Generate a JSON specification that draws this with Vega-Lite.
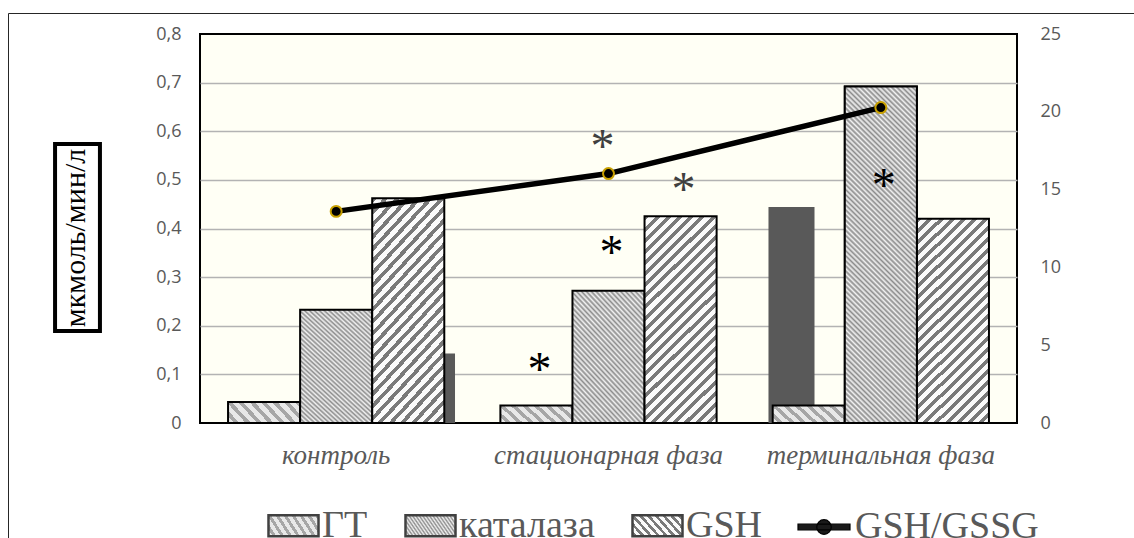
{
  "$schema": "https://vega.github.io/schema/vega-lite/v6.json",
  "width": 817,
  "height": 389,
  "autosize": {"type": "none"},
  "padding": {"left": 200, "top": 34, "right": 117, "bottom": 115},
  "background": "white",
  "config": {
    "view": {"stroke": "black", "strokeWidth": 2, "fill": "#fffff5"}
  },
  "params": [
    {"name": "gradGT", "value": {"gradient": "linear", "x1": 1, "y1": 0, "x2": -0.183, "y2": 0.317, "stops": [
      {"offset": 0, "color": "#a6a6a6"}, {"offset": 0.056, "color": "#a6a6a6"}, {"offset": 0.056, "color": "#e8e8e8"}, {"offset": 0.125, "color": "#e8e8e8"},
      {"offset": 0.125, "color": "#a6a6a6"}, {"offset": 0.181, "color": "#a6a6a6"}, {"offset": 0.181, "color": "#e8e8e8"}, {"offset": 0.25, "color": "#e8e8e8"},
      {"offset": 0.25, "color": "#a6a6a6"}, {"offset": 0.306, "color": "#a6a6a6"}, {"offset": 0.306, "color": "#e8e8e8"}, {"offset": 0.375, "color": "#e8e8e8"},
      {"offset": 0.375, "color": "#a6a6a6"}, {"offset": 0.431, "color": "#a6a6a6"}, {"offset": 0.431, "color": "#e8e8e8"}, {"offset": 0.5, "color": "#e8e8e8"},
      {"offset": 0.5, "color": "#a6a6a6"}, {"offset": 0.556, "color": "#a6a6a6"}, {"offset": 0.556, "color": "#e8e8e8"}, {"offset": 0.625, "color": "#e8e8e8"},
      {"offset": 0.625, "color": "#a6a6a6"}, {"offset": 0.681, "color": "#a6a6a6"}, {"offset": 0.681, "color": "#e8e8e8"}, {"offset": 0.75, "color": "#e8e8e8"},
      {"offset": 0.75, "color": "#a6a6a6"}, {"offset": 0.806, "color": "#a6a6a6"}, {"offset": 0.806, "color": "#e8e8e8"}, {"offset": 0.875, "color": "#e8e8e8"},
      {"offset": 0.875, "color": "#a6a6a6"}, {"offset": 0.931, "color": "#a6a6a6"}, {"offset": 0.931, "color": "#e8e8e8"}, {"offset": 1, "color": "#e8e8e8"}
    ]}},
    {"name": "gradKat", "value": {"gradient": "linear", "x1": 1, "y1": 0, "x2": 0.312, "y2": 1.182, "stops": [
      {"offset": 0, "color": "#8c8c8c"}, {"offset": 0.0125, "color": "#f2f2f2"}, {"offset": 0.025, "color": "#8c8c8c"}, {"offset": 0.0375, "color": "#f2f2f2"},
      {"offset": 0.05, "color": "#8c8c8c"}, {"offset": 0.0625, "color": "#f2f2f2"}, {"offset": 0.075, "color": "#8c8c8c"}, {"offset": 0.0875, "color": "#f2f2f2"},
      {"offset": 0.1, "color": "#8c8c8c"}, {"offset": 0.1125, "color": "#f2f2f2"}, {"offset": 0.125, "color": "#8c8c8c"}, {"offset": 0.1375, "color": "#f2f2f2"},
      {"offset": 0.15, "color": "#8c8c8c"}, {"offset": 0.1625, "color": "#f2f2f2"}, {"offset": 0.175, "color": "#8c8c8c"}, {"offset": 0.1875, "color": "#f2f2f2"},
      {"offset": 0.2, "color": "#8c8c8c"}, {"offset": 0.2125, "color": "#f2f2f2"}, {"offset": 0.225, "color": "#8c8c8c"}, {"offset": 0.2375, "color": "#f2f2f2"},
      {"offset": 0.25, "color": "#8c8c8c"}, {"offset": 0.2625, "color": "#f2f2f2"}, {"offset": 0.275, "color": "#8c8c8c"}, {"offset": 0.2875, "color": "#f2f2f2"},
      {"offset": 0.3, "color": "#8c8c8c"}, {"offset": 0.3125, "color": "#f2f2f2"}, {"offset": 0.325, "color": "#8c8c8c"}, {"offset": 0.3375, "color": "#f2f2f2"},
      {"offset": 0.35, "color": "#8c8c8c"}, {"offset": 0.3625, "color": "#f2f2f2"}, {"offset": 0.375, "color": "#8c8c8c"}, {"offset": 0.3875, "color": "#f2f2f2"},
      {"offset": 0.4, "color": "#8c8c8c"}, {"offset": 0.4125, "color": "#f2f2f2"}, {"offset": 0.425, "color": "#8c8c8c"}, {"offset": 0.4375, "color": "#f2f2f2"},
      {"offset": 0.45, "color": "#8c8c8c"}, {"offset": 0.4625, "color": "#f2f2f2"}, {"offset": 0.475, "color": "#8c8c8c"}, {"offset": 0.4875, "color": "#f2f2f2"},
      {"offset": 0.5, "color": "#8c8c8c"}, {"offset": 0.5125, "color": "#f2f2f2"}, {"offset": 0.525, "color": "#8c8c8c"}, {"offset": 0.5375, "color": "#f2f2f2"},
      {"offset": 0.55, "color": "#8c8c8c"}, {"offset": 0.5625, "color": "#f2f2f2"}, {"offset": 0.575, "color": "#8c8c8c"}, {"offset": 0.5875, "color": "#f2f2f2"},
      {"offset": 0.6, "color": "#8c8c8c"}, {"offset": 0.6125, "color": "#f2f2f2"}, {"offset": 0.625, "color": "#8c8c8c"}, {"offset": 0.6375, "color": "#f2f2f2"},
      {"offset": 0.65, "color": "#8c8c8c"}, {"offset": 0.6625, "color": "#f2f2f2"}, {"offset": 0.675, "color": "#8c8c8c"}, {"offset": 0.6875, "color": "#f2f2f2"},
      {"offset": 0.7, "color": "#8c8c8c"}, {"offset": 0.7125, "color": "#f2f2f2"}, {"offset": 0.725, "color": "#8c8c8c"}, {"offset": 0.7375, "color": "#f2f2f2"},
      {"offset": 0.75, "color": "#8c8c8c"}, {"offset": 0.7625, "color": "#f2f2f2"}, {"offset": 0.775, "color": "#8c8c8c"}, {"offset": 0.7875, "color": "#f2f2f2"},
      {"offset": 0.8, "color": "#8c8c8c"}, {"offset": 0.8125, "color": "#f2f2f2"}, {"offset": 0.825, "color": "#8c8c8c"}, {"offset": 0.8375, "color": "#f2f2f2"},
      {"offset": 0.85, "color": "#8c8c8c"}, {"offset": 0.8625, "color": "#f2f2f2"}, {"offset": 0.875, "color": "#8c8c8c"}, {"offset": 0.8875, "color": "#f2f2f2"},
      {"offset": 0.9, "color": "#8c8c8c"}, {"offset": 0.9125, "color": "#f2f2f2"}, {"offset": 0.925, "color": "#8c8c8c"}, {"offset": 0.9375, "color": "#f2f2f2"},
      {"offset": 0.95, "color": "#8c8c8c"}, {"offset": 0.9625, "color": "#f2f2f2"}, {"offset": 0.975, "color": "#8c8c8c"}, {"offset": 0.9875, "color": "#f2f2f2"},
      {"offset": 1, "color": "#8c8c8c"}
    ]}},
    {"name": "gradKatTall", "value": {"gradient": "linear", "x1": 1, "y1": 0, "x2": 0.7558, "y2": 1.1592, "stops": [
      {"offset": 0, "color": "#8c8c8c"}, {"offset": 0.00625, "color": "#f2f2f2"}, {"offset": 0.0125, "color": "#8c8c8c"}, {"offset": 0.01875, "color": "#f2f2f2"},
      {"offset": 0.025, "color": "#8c8c8c"}, {"offset": 0.03125, "color": "#f2f2f2"}, {"offset": 0.0375, "color": "#8c8c8c"}, {"offset": 0.04375, "color": "#f2f2f2"},
      {"offset": 0.05, "color": "#8c8c8c"}, {"offset": 0.05625, "color": "#f2f2f2"}, {"offset": 0.0625, "color": "#8c8c8c"}, {"offset": 0.06875, "color": "#f2f2f2"},
      {"offset": 0.075, "color": "#8c8c8c"}, {"offset": 0.08125, "color": "#f2f2f2"}, {"offset": 0.0875, "color": "#8c8c8c"}, {"offset": 0.09375, "color": "#f2f2f2"},
      {"offset": 0.1, "color": "#8c8c8c"}, {"offset": 0.10625, "color": "#f2f2f2"}, {"offset": 0.1125, "color": "#8c8c8c"}, {"offset": 0.11875, "color": "#f2f2f2"},
      {"offset": 0.125, "color": "#8c8c8c"}, {"offset": 0.13125, "color": "#f2f2f2"}, {"offset": 0.1375, "color": "#8c8c8c"}, {"offset": 0.14375, "color": "#f2f2f2"},
      {"offset": 0.15, "color": "#8c8c8c"}, {"offset": 0.15625, "color": "#f2f2f2"}, {"offset": 0.1625, "color": "#8c8c8c"}, {"offset": 0.16875, "color": "#f2f2f2"},
      {"offset": 0.175, "color": "#8c8c8c"}, {"offset": 0.18125, "color": "#f2f2f2"}, {"offset": 0.1875, "color": "#8c8c8c"}, {"offset": 0.19375, "color": "#f2f2f2"},
      {"offset": 0.2, "color": "#8c8c8c"}, {"offset": 0.20625, "color": "#f2f2f2"}, {"offset": 0.2125, "color": "#8c8c8c"}, {"offset": 0.21875, "color": "#f2f2f2"},
      {"offset": 0.225, "color": "#8c8c8c"}, {"offset": 0.23125, "color": "#f2f2f2"}, {"offset": 0.2375, "color": "#8c8c8c"}, {"offset": 0.24375, "color": "#f2f2f2"},
      {"offset": 0.25, "color": "#8c8c8c"}, {"offset": 0.25625, "color": "#f2f2f2"}, {"offset": 0.2625, "color": "#8c8c8c"}, {"offset": 0.26875, "color": "#f2f2f2"},
      {"offset": 0.275, "color": "#8c8c8c"}, {"offset": 0.28125, "color": "#f2f2f2"}, {"offset": 0.2875, "color": "#8c8c8c"}, {"offset": 0.29375, "color": "#f2f2f2"},
      {"offset": 0.3, "color": "#8c8c8c"}, {"offset": 0.30625, "color": "#f2f2f2"}, {"offset": 0.3125, "color": "#8c8c8c"}, {"offset": 0.31875, "color": "#f2f2f2"},
      {"offset": 0.325, "color": "#8c8c8c"}, {"offset": 0.33125, "color": "#f2f2f2"}, {"offset": 0.3375, "color": "#8c8c8c"}, {"offset": 0.34375, "color": "#f2f2f2"},
      {"offset": 0.35, "color": "#8c8c8c"}, {"offset": 0.35625, "color": "#f2f2f2"}, {"offset": 0.3625, "color": "#8c8c8c"}, {"offset": 0.36875, "color": "#f2f2f2"},
      {"offset": 0.375, "color": "#8c8c8c"}, {"offset": 0.38125, "color": "#f2f2f2"}, {"offset": 0.3875, "color": "#8c8c8c"}, {"offset": 0.39375, "color": "#f2f2f2"},
      {"offset": 0.4, "color": "#8c8c8c"}, {"offset": 0.40625, "color": "#f2f2f2"}, {"offset": 0.4125, "color": "#8c8c8c"}, {"offset": 0.41875, "color": "#f2f2f2"},
      {"offset": 0.425, "color": "#8c8c8c"}, {"offset": 0.43125, "color": "#f2f2f2"}, {"offset": 0.4375, "color": "#8c8c8c"}, {"offset": 0.44375, "color": "#f2f2f2"},
      {"offset": 0.45, "color": "#8c8c8c"}, {"offset": 0.45625, "color": "#f2f2f2"}, {"offset": 0.4625, "color": "#8c8c8c"}, {"offset": 0.46875, "color": "#f2f2f2"},
      {"offset": 0.475, "color": "#8c8c8c"}, {"offset": 0.48125, "color": "#f2f2f2"}, {"offset": 0.4875, "color": "#8c8c8c"}, {"offset": 0.49375, "color": "#f2f2f2"},
      {"offset": 0.5, "color": "#8c8c8c"}, {"offset": 0.50625, "color": "#f2f2f2"}, {"offset": 0.5125, "color": "#8c8c8c"}, {"offset": 0.51875, "color": "#f2f2f2"},
      {"offset": 0.525, "color": "#8c8c8c"}, {"offset": 0.53125, "color": "#f2f2f2"}, {"offset": 0.5375, "color": "#8c8c8c"}, {"offset": 0.54375, "color": "#f2f2f2"},
      {"offset": 0.55, "color": "#8c8c8c"}, {"offset": 0.55625, "color": "#f2f2f2"}, {"offset": 0.5625, "color": "#8c8c8c"}, {"offset": 0.56875, "color": "#f2f2f2"},
      {"offset": 0.575, "color": "#8c8c8c"}, {"offset": 0.58125, "color": "#f2f2f2"}, {"offset": 0.5875, "color": "#8c8c8c"}, {"offset": 0.59375, "color": "#f2f2f2"},
      {"offset": 0.6, "color": "#8c8c8c"}, {"offset": 0.60625, "color": "#f2f2f2"}, {"offset": 0.6125, "color": "#8c8c8c"}, {"offset": 0.61875, "color": "#f2f2f2"},
      {"offset": 0.625, "color": "#8c8c8c"}, {"offset": 0.63125, "color": "#f2f2f2"}, {"offset": 0.6375, "color": "#8c8c8c"}, {"offset": 0.64375, "color": "#f2f2f2"},
      {"offset": 0.65, "color": "#8c8c8c"}, {"offset": 0.65625, "color": "#f2f2f2"}, {"offset": 0.6625, "color": "#8c8c8c"}, {"offset": 0.66875, "color": "#f2f2f2"},
      {"offset": 0.675, "color": "#8c8c8c"}, {"offset": 0.68125, "color": "#f2f2f2"}, {"offset": 0.6875, "color": "#8c8c8c"}, {"offset": 0.69375, "color": "#f2f2f2"},
      {"offset": 0.7, "color": "#8c8c8c"}, {"offset": 0.70625, "color": "#f2f2f2"}, {"offset": 0.7125, "color": "#8c8c8c"}, {"offset": 0.71875, "color": "#f2f2f2"},
      {"offset": 0.725, "color": "#8c8c8c"}, {"offset": 0.73125, "color": "#f2f2f2"}, {"offset": 0.7375, "color": "#8c8c8c"}, {"offset": 0.74375, "color": "#f2f2f2"},
      {"offset": 0.75, "color": "#8c8c8c"}, {"offset": 0.75625, "color": "#f2f2f2"}, {"offset": 0.7625, "color": "#8c8c8c"}, {"offset": 0.76875, "color": "#f2f2f2"},
      {"offset": 0.775, "color": "#8c8c8c"}, {"offset": 0.78125, "color": "#f2f2f2"}, {"offset": 0.7875, "color": "#8c8c8c"}, {"offset": 0.79375, "color": "#f2f2f2"},
      {"offset": 0.8, "color": "#8c8c8c"}, {"offset": 0.80625, "color": "#f2f2f2"}, {"offset": 0.8125, "color": "#8c8c8c"}, {"offset": 0.81875, "color": "#f2f2f2"},
      {"offset": 0.825, "color": "#8c8c8c"}, {"offset": 0.83125, "color": "#f2f2f2"}, {"offset": 0.8375, "color": "#8c8c8c"}, {"offset": 0.84375, "color": "#f2f2f2"},
      {"offset": 0.85, "color": "#8c8c8c"}, {"offset": 0.85625, "color": "#f2f2f2"}, {"offset": 0.8625, "color": "#8c8c8c"}, {"offset": 0.86875, "color": "#f2f2f2"},
      {"offset": 0.875, "color": "#8c8c8c"}, {"offset": 0.88125, "color": "#f2f2f2"}, {"offset": 0.8875, "color": "#8c8c8c"}, {"offset": 0.89375, "color": "#f2f2f2"},
      {"offset": 0.9, "color": "#8c8c8c"}, {"offset": 0.90625, "color": "#f2f2f2"}, {"offset": 0.9125, "color": "#8c8c8c"}, {"offset": 0.91875, "color": "#f2f2f2"},
      {"offset": 0.925, "color": "#8c8c8c"}, {"offset": 0.93125, "color": "#f2f2f2"}, {"offset": 0.9375, "color": "#8c8c8c"}, {"offset": 0.94375, "color": "#f2f2f2"},
      {"offset": 0.95, "color": "#8c8c8c"}, {"offset": 0.95625, "color": "#f2f2f2"}, {"offset": 0.9625, "color": "#8c8c8c"}, {"offset": 0.96875, "color": "#f2f2f2"},
      {"offset": 0.975, "color": "#8c8c8c"}, {"offset": 0.98125, "color": "#f2f2f2"}, {"offset": 0.9875, "color": "#8c8c8c"}, {"offset": 0.99375, "color": "#f2f2f2"},
      {"offset": 1, "color": "#8c8c8c"}
    ]}},
    {"name": "gradGSH", "value": {"gradient": "linear", "x1": 0, "y1": 0, "x2": 0.416, "y2": 1.202, "stops": [
      {"offset": 0, "color": "#7a7a7a"}, {"offset": 0.018, "color": "#7a7a7a"}, {"offset": 0.018, "color": "#fbfbfb"}, {"offset": 0.04, "color": "#fbfbfb"},
      {"offset": 0.04, "color": "#7a7a7a"}, {"offset": 0.058, "color": "#7a7a7a"}, {"offset": 0.058, "color": "#fbfbfb"}, {"offset": 0.08, "color": "#fbfbfb"},
      {"offset": 0.08, "color": "#7a7a7a"}, {"offset": 0.098, "color": "#7a7a7a"}, {"offset": 0.098, "color": "#fbfbfb"}, {"offset": 0.12, "color": "#fbfbfb"},
      {"offset": 0.12, "color": "#7a7a7a"}, {"offset": 0.138, "color": "#7a7a7a"}, {"offset": 0.138, "color": "#fbfbfb"}, {"offset": 0.16, "color": "#fbfbfb"},
      {"offset": 0.16, "color": "#7a7a7a"}, {"offset": 0.178, "color": "#7a7a7a"}, {"offset": 0.178, "color": "#fbfbfb"}, {"offset": 0.2, "color": "#fbfbfb"},
      {"offset": 0.2, "color": "#7a7a7a"}, {"offset": 0.218, "color": "#7a7a7a"}, {"offset": 0.218, "color": "#fbfbfb"}, {"offset": 0.24, "color": "#fbfbfb"},
      {"offset": 0.24, "color": "#7a7a7a"}, {"offset": 0.258, "color": "#7a7a7a"}, {"offset": 0.258, "color": "#fbfbfb"}, {"offset": 0.28, "color": "#fbfbfb"},
      {"offset": 0.28, "color": "#7a7a7a"}, {"offset": 0.298, "color": "#7a7a7a"}, {"offset": 0.298, "color": "#fbfbfb"}, {"offset": 0.32, "color": "#fbfbfb"},
      {"offset": 0.32, "color": "#7a7a7a"}, {"offset": 0.338, "color": "#7a7a7a"}, {"offset": 0.338, "color": "#fbfbfb"}, {"offset": 0.36, "color": "#fbfbfb"},
      {"offset": 0.36, "color": "#7a7a7a"}, {"offset": 0.378, "color": "#7a7a7a"}, {"offset": 0.378, "color": "#fbfbfb"}, {"offset": 0.4, "color": "#fbfbfb"},
      {"offset": 0.4, "color": "#7a7a7a"}, {"offset": 0.418, "color": "#7a7a7a"}, {"offset": 0.418, "color": "#fbfbfb"}, {"offset": 0.44, "color": "#fbfbfb"},
      {"offset": 0.44, "color": "#7a7a7a"}, {"offset": 0.458, "color": "#7a7a7a"}, {"offset": 0.458, "color": "#fbfbfb"}, {"offset": 0.48, "color": "#fbfbfb"},
      {"offset": 0.48, "color": "#7a7a7a"}, {"offset": 0.498, "color": "#7a7a7a"}, {"offset": 0.498, "color": "#fbfbfb"}, {"offset": 0.52, "color": "#fbfbfb"},
      {"offset": 0.52, "color": "#7a7a7a"}, {"offset": 0.538, "color": "#7a7a7a"}, {"offset": 0.538, "color": "#fbfbfb"}, {"offset": 0.56, "color": "#fbfbfb"},
      {"offset": 0.56, "color": "#7a7a7a"}, {"offset": 0.578, "color": "#7a7a7a"}, {"offset": 0.578, "color": "#fbfbfb"}, {"offset": 0.6, "color": "#fbfbfb"},
      {"offset": 0.6, "color": "#7a7a7a"}, {"offset": 0.618, "color": "#7a7a7a"}, {"offset": 0.618, "color": "#fbfbfb"}, {"offset": 0.64, "color": "#fbfbfb"},
      {"offset": 0.64, "color": "#7a7a7a"}, {"offset": 0.658, "color": "#7a7a7a"}, {"offset": 0.658, "color": "#fbfbfb"}, {"offset": 0.68, "color": "#fbfbfb"},
      {"offset": 0.68, "color": "#7a7a7a"}, {"offset": 0.698, "color": "#7a7a7a"}, {"offset": 0.698, "color": "#fbfbfb"}, {"offset": 0.72, "color": "#fbfbfb"},
      {"offset": 0.72, "color": "#7a7a7a"}, {"offset": 0.738, "color": "#7a7a7a"}, {"offset": 0.738, "color": "#fbfbfb"}, {"offset": 0.76, "color": "#fbfbfb"},
      {"offset": 0.76, "color": "#7a7a7a"}, {"offset": 0.778, "color": "#7a7a7a"}, {"offset": 0.778, "color": "#fbfbfb"}, {"offset": 0.8, "color": "#fbfbfb"},
      {"offset": 0.8, "color": "#7a7a7a"}, {"offset": 0.818, "color": "#7a7a7a"}, {"offset": 0.818, "color": "#fbfbfb"}, {"offset": 0.84, "color": "#fbfbfb"},
      {"offset": 0.84, "color": "#7a7a7a"}, {"offset": 0.858, "color": "#7a7a7a"}, {"offset": 0.858, "color": "#fbfbfb"}, {"offset": 0.88, "color": "#fbfbfb"},
      {"offset": 0.88, "color": "#7a7a7a"}, {"offset": 0.898, "color": "#7a7a7a"}, {"offset": 0.898, "color": "#fbfbfb"}, {"offset": 0.92, "color": "#fbfbfb"},
      {"offset": 0.92, "color": "#7a7a7a"}, {"offset": 0.938, "color": "#7a7a7a"}, {"offset": 0.938, "color": "#fbfbfb"}, {"offset": 0.96, "color": "#fbfbfb"},
      {"offset": 0.96, "color": "#7a7a7a"}, {"offset": 0.978, "color": "#7a7a7a"}, {"offset": 0.978, "color": "#fbfbfb"}, {"offset": 1, "color": "#fbfbfb"}
    ]}}
  ],
  "datasets": {
    "ферменты": [
      {"фаза": "контроль", "серия": "ГТ", "значение": 0.043, "единицы": "мкмоль/мин/л"},
      {"фаза": "контроль", "серия": "каталаза", "значение": 0.233, "единицы": "мкмоль/мин/л"},
      {"фаза": "контроль", "серия": "GSH", "значение": 0.462, "единицы": "мкмоль/мин/л"},
      {"фаза": "стационарная фаза", "серия": "ГТ", "значение": 0.036, "единицы": "мкмоль/мин/л"},
      {"фаза": "стационарная фаза", "серия": "каталаза", "значение": 0.272, "единицы": "мкмоль/мин/л"},
      {"фаза": "стационарная фаза", "серия": "GSH", "значение": 0.425, "единицы": "мкмоль/мин/л"},
      {"фаза": "терминальная фаза", "серия": "ГТ", "значение": 0.036, "единицы": "мкмоль/мин/л"},
      {"фаза": "терминальная фаза", "серия": "каталаза", "значение": 0.692, "единицы": "мкмоль/мин/л"},
      {"фаза": "терминальная фаза", "серия": "GSH", "значение": 0.42, "единицы": "мкмоль/мин/л"}
    ],
    "тёмные": [
      {"фаза": "контроль", "значение": 0.143},
      {"фаза": "терминальная фаза", "значение": 0.444}
    ],
    "отношение": [
      {"фаза": "контроль", "показатель": "GSH/GSSG", "значение": 13.6},
      {"фаза": "стационарная фаза", "показатель": "GSH/GSSG", "значение": 16.03},
      {"фаза": "терминальная фаза", "показатель": "GSH/GSSG", "значение": 20.27}
    ],
    "звёздочки": [
      {"фаза": "стационарная фаза", "серия": "GSH/GSSG", "уровень": 18.17},
      {"фаза": "стационарная фаза", "серия": "GSH", "уровень": 0.493},
      {"фаза": "стационарная фаза", "серия": "каталаза", "уровень": 0.365},
      {"фаза": "стационарная фаза", "серия": "ГТ", "уровень": 0.123},
      {"фаза": "терминальная фаза", "серия": "каталаза", "уровень": 0.501}
    ]
  },
  "resolve": {"scale": {"x": "independent", "y": "independent"}},
  "layer": [
    {
      "data": {"name": "тёмные"},
      "mark": {"type": "bar", "fill": "#595959"},
      "encoding": {
        "x": {"field": "фаза", "type": "nominal", "axis": null,
              "scale": {"domain": ["контроль", "стационарная фаза", "терминальная фаза"], "range": [209, 614.5], "paddingInner": 0.744, "paddingOuter": 0}},
        "y": {"field": "значение", "type": "quantitative", "axis": null, "scale": {"domain": [0, 0.8], "nice": false}}
      }
    },
    {
      "layer": [
        {
          "data": {"name": "ферменты"},
          "mark": {"type": "bar", "stroke": "black", "strokeWidth": 2},
          "encoding": {
            "x": {"field": "фаза", "type": "nominal",
                  "scale": {"domain": ["контроль", "стационарная фаза", "терминальная фаза"], "paddingInner": 0.206, "paddingOuter": 0.103},
                  "axis": {"orient": "bottom", "title": null, "domain": false, "ticks": false, "tickSize": 0, "grid": false, "labelAngle": 0, "labelLimit": 400,
                           "labelPadding": 40, "labelBaseline": "alphabetic", "labelFont": "Liberation Serif", "labelFontStyle": "italic",
                           "labelFontSize": 27, "labelColor": "#595959"}},
            "xOffset": {"field": "серия", "type": "nominal", "scale": {"domain": ["ГТ", "каталаза", "GSH"], "paddingInner": 0, "paddingOuter": 0}},
            "y": {"field": "значение", "type": "quantitative", "scale": {"domain": [0, 0.8], "nice": false},
                  "axis": {"orient": "left", "values": [0, 0.1, 0.2, 0.3, 0.4, 0.5, 0.6, 0.7, 0.8],
                           "labelExpr": "datum.value === 0 ? '0' : replace(format(datum.value, '.1f'), '.', ',')",
                           "domain": false, "ticks": false, "tickSize": 0, "labelPadding": 19, "labelFont": "Open Sans", "labelFontSize": 18, "labelColor": "#595959",
                           "grid": true, "gridColor": "#b3b3b3", "gridWidth": 1.3,
                           "gridOpacity": {"condition": {"test": "datum.value === 0 || datum.value === 0.8", "value": 0}, "value": 1},
                           "title": "мкмоль/мин/л", "titleFont": "Liberation Serif", "titleFontSize": 30, "titleFontWeight": "normal", "titleColor": "black",
                           "titleAngle": 270, "titleX": -115.6, "titleY": 203.5, "titleAlign": "center", "titleBaseline": "alphabetic", "titleLimit": 0}},
            "fill": {
              "field": "серия", "type": "nominal",
              "scale": {"domain": ["ГТ", "каталаза", "GSH"], "range": [{"expr": "gradGT"}, {"expr": "gradKat"}, {"expr": "gradGSH"}]},
              "legend": {
                "title": null, "orient": "none", "legendX": 67, "legendY": 465, "direction": "horizontal",
                "symbolType": "M-1,-0.42H1V0.42H-1Z", "symbolSize": 2500, "symbolStrokeColor": "#404040", "symbolStrokeWidth": 2.5, "symbolOpacity": 1,
                "labelFont": "Liberation Serif", "labelFontSize": 38, "labelColor": "#595959", "labelOffset": 2, "labelLimit": 0,
                "columnPadding": 32
              }
            },
            "strokeDash": {
              "field": "единицы", "type": "nominal", "scale": {"range": [[1, 0]]},
              "legend": {
                "title": null, "orient": "none", "legendX": -218, "legendY": 108, "padding": 0,
                "symbolType": "M-0.24,-1H0.24V1H-0.24Z", "symbolSize": 34969,
                "symbolFillColor": "transparent", "symbolStrokeColor": "black", "symbolStrokeWidth": 4, "symbolOpacity": 1,
                "labelOpacity": 0, "labelFontSize": 1, "labelOffset": 0
              }
            }
          }
        },
        {
          "data": {"name": "ферменты"},
          "transform": [{"filter": "datum['серия'] === 'каталаза' && datum['значение'] > 0.5"}],
          "mark": {"type": "bar", "stroke": "black", "strokeWidth": 2, "fill": {"expr": "gradKatTall"}},
          "encoding": {
            "x": {"field": "фаза", "type": "nominal",
                  "axis": {"orient": "bottom", "title": null, "domain": false, "ticks": false, "tickSize": 0, "grid": false, "labelAngle": 0, "labelLimit": 400,
                           "labelPadding": 40, "labelBaseline": "alphabetic", "labelFont": "Liberation Serif", "labelFontStyle": "italic",
                           "labelFontSize": 27, "labelColor": "#595959"}},
            "xOffset": {"field": "серия", "type": "nominal"},
            "y": {"field": "значение", "type": "quantitative",
                  "axis": {"orient": "left", "values": [0, 0.1, 0.2, 0.3, 0.4, 0.5, 0.6, 0.7, 0.8],
                           "labelExpr": "datum.value === 0 ? '0' : replace(format(datum.value, '.1f'), '.', ',')",
                           "domain": false, "ticks": false, "tickSize": 0, "labelPadding": 19, "labelFont": "Open Sans", "labelFontSize": 18, "labelColor": "#595959",
                           "grid": true, "gridColor": "#b3b3b3", "gridWidth": 1.3,
                           "gridOpacity": {"condition": {"test": "datum.value === 0 || datum.value === 0.8", "value": 0}, "value": 1},
                           "title": "мкмоль/мин/л", "titleFont": "Liberation Serif", "titleFontSize": 30, "titleFontWeight": "normal", "titleColor": "black",
                           "titleAngle": 270, "titleX": -115.6, "titleY": 203.5, "titleAlign": "center", "titleBaseline": "alphabetic", "titleLimit": 0}}
          }
        },
        {
          "data": {"name": "звёздочки"},
          "transform": [{"filter": "datum['серия'] !== 'GSH/GSSG'"}],
          "mark": {"type": "text", "text": "*", "font": "Liberation Serif", "fontSize": 48, "baseline": "alphabetic", "align": "center", "dy": 22, "dx": 3},
          "encoding": {
            "x": {"field": "фаза", "type": "nominal",
                  "axis": {"orient": "bottom", "title": null, "domain": false, "ticks": false, "tickSize": 0, "grid": false, "labelAngle": 0, "labelLimit": 400,
                           "labelPadding": 40, "labelBaseline": "alphabetic", "labelFont": "Liberation Serif", "labelFontStyle": "italic",
                           "labelFontSize": 27, "labelColor": "#595959"}},
            "xOffset": {"field": "серия", "type": "nominal"},
            "y": {"field": "уровень", "type": "quantitative",
                  "axis": {"orient": "left", "values": [0, 0.1, 0.2, 0.3, 0.4, 0.5, 0.6, 0.7, 0.8],
                           "labelExpr": "datum.value === 0 ? '0' : replace(format(datum.value, '.1f'), '.', ',')",
                           "domain": false, "ticks": false, "tickSize": 0, "labelPadding": 19, "labelFont": "Open Sans", "labelFontSize": 18, "labelColor": "#595959",
                           "grid": true, "gridColor": "#b3b3b3", "gridWidth": 1.3,
                           "gridOpacity": {"condition": {"test": "datum.value === 0 || datum.value === 0.8", "value": 0}, "value": 1},
                           "title": "мкмоль/мин/л", "titleFont": "Liberation Serif", "titleFontSize": 30, "titleFontWeight": "normal", "titleColor": "black",
                           "titleAngle": 270, "titleX": -115.6, "titleY": 203.5, "titleAlign": "center", "titleBaseline": "alphabetic", "titleLimit": 0}},
            "color": {"condition": {"test": "datum['серия'] === 'GSH'", "value": "#404040"}, "value": "black"}
          }
        }
      ]
    },
    {
      "layer": [
        {
          "data": {"name": "отношение"},
          "mark": {"type": "line", "strokeWidth": 5.5},
          "encoding": {
            "x": {"field": "фаза", "type": "nominal", "axis": null,
                  "scale": {"domain": ["контроль", "стационарная фаза", "терминальная фаза"], "paddingInner": 0.206, "paddingOuter": 0.103}},
            "y": {"field": "значение", "type": "quantitative", "scale": {"domain": [0, 25], "nice": false},
                  "axis": {"orient": "right", "title": null, "values": [0, 5, 10, 15, 20, 25], "grid": false, "domain": false, "ticks": false, "tickSize": 0,
                           "labelPadding": 23, "labelFont": "Open Sans", "labelFontSize": 18, "labelColor": "#595959"}},
            "stroke": {
              "field": "показатель", "type": "nominal", "scale": {"range": ["black"]},
              "legend": {
                "title": "                    ", "titleOpacity": 0, "titleFontSize": 480, "titleLimit": 5000, "titlePadding": 7, "titleOrient": "top", "titleAnchor": "start",
                "orient": "none", "legendX": -192, "legendY": -21, "padding": 0,
                "strokeColor": "#262626",
                "symbolOffset": 789,
                "symbolType": "M-1,-0.11H1V0.11H-1Z M0.28,0A0.28,0.28 0 1,1 -0.28,0A0.28,0.28 0 1,1 0.28,0Z M45,0Z M0,12Z", "symbolSize": 2704,
                "symbolFillColor": "#1a1a1a", "symbolStrokeColor": "#c8a000", "symbolStrokeWidth": 1.2, "symbolOpacity": 1,
                "labelFont": "Liberation Serif", "labelFontSize": 38, "labelColor": "#595959", "labelOffset": 4, "labelLimit": 0
              }
            }
          }
        },
        {
          "data": {"name": "отношение"},
          "mark": {"type": "point", "shape": "circle", "filled": true, "fill": "black", "stroke": "#c8a000", "strokeWidth": 2, "size": 120, "opacity": 1},
          "encoding": {
            "x": {"field": "фаза", "type": "nominal", "axis": null},
            "y": {"field": "значение", "type": "quantitative",
                  "axis": {"orient": "right", "title": null, "values": [0, 5, 10, 15, 20, 25], "grid": false, "domain": false, "ticks": false, "tickSize": 0,
                           "labelPadding": 23, "labelFont": "Open Sans", "labelFontSize": 18, "labelColor": "#595959"}}
          }
        },
        {
          "data": {"name": "звёздочки"},
          "transform": [{"filter": "datum['серия'] === 'GSH/GSSG'"}],
          "mark": {"type": "text", "text": "*", "font": "Liberation Serif", "fontSize": 48, "baseline": "alphabetic", "align": "center", "dy": 22, "dx": -6, "color": "#404040"},
          "encoding": {
            "x": {"field": "фаза", "type": "nominal", "axis": null},
            "y": {"field": "уровень", "type": "quantitative",
                  "axis": {"orient": "right", "title": null, "values": [0, 5, 10, 15, 20, 25], "grid": false, "domain": false, "ticks": false, "tickSize": 0,
                           "labelPadding": 23, "labelFont": "Open Sans", "labelFontSize": 18, "labelColor": "#595959"}}
          }
        }
      ]
    }
  ]
}
